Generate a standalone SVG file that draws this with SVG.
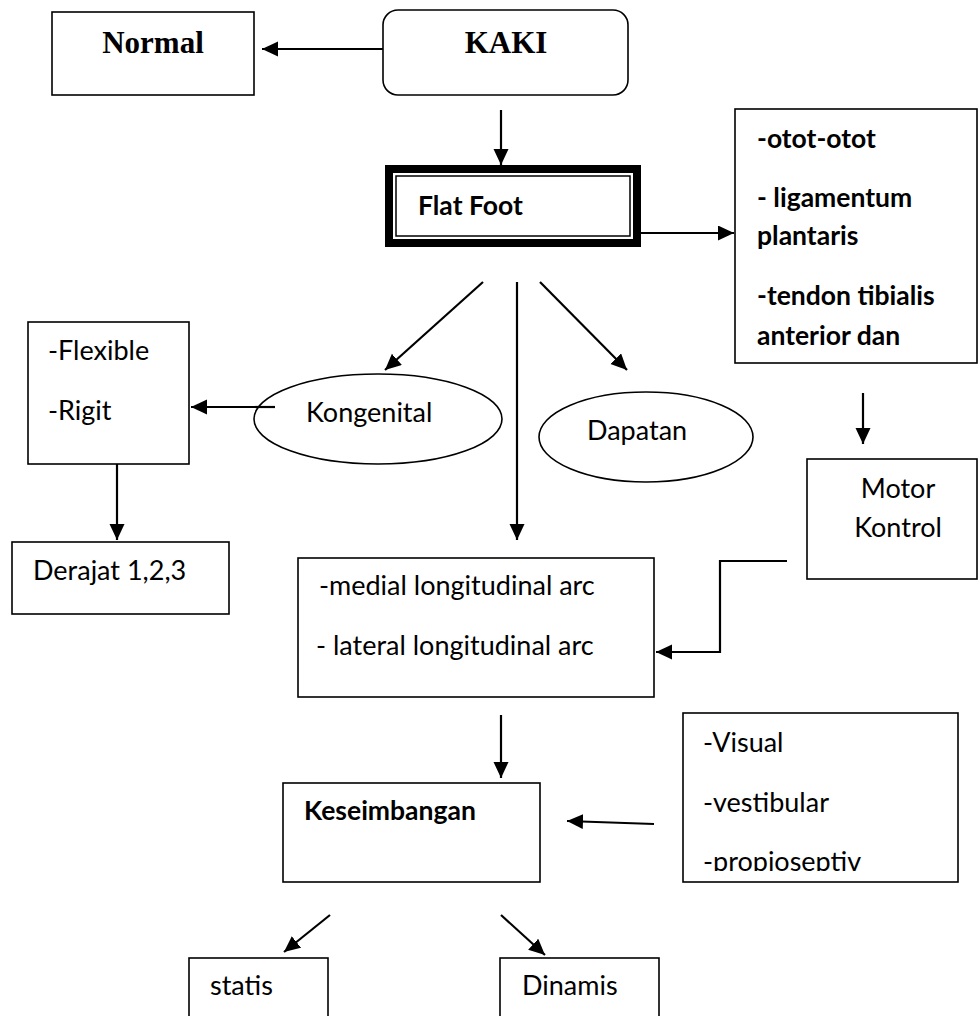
<svg xmlns="http://www.w3.org/2000/svg" width="978" height="1016" viewBox="0 0 978 1016">
<style>
.box{fill:#fff;stroke:#000;stroke-width:1.6}
.ell{fill:#fff;stroke:#000;stroke-width:1.6}
.t{font-family:Lato,"Liberation Sans",sans-serif;font-size:27px;fill:#000}
.b{font-weight:bold;font-size:26.5px}
.s{font-family:"Liberation Serif",serif;font-size:31px;font-weight:bold;fill:#000}
.c{fill:none;stroke:#000;stroke-width:2.2}
</style>
<defs>
<marker id="ah" markerUnits="userSpaceOnUse" markerWidth="17" markerHeight="16" refX="16" refY="7.5" orient="auto">
<path d="M0,0 L16,7.5 L0,15 z" fill="#000"/>
</marker>
<clipPath id="vclip"><rect x="683" y="713" width="275" height="158"/></clipPath>
</defs>
<rect width="978" height="1016" fill="#fff"/>
<g id="connectors">
<line class="c" x1="383" y1="49" x2="262" y2="49" marker-end="url(#ah)"/>
<line class="c" x1="501" y1="110" x2="501" y2="165" marker-end="url(#ah)"/>
<line class="c" x1="641" y1="233" x2="734" y2="233" marker-end="url(#ah)"/>
<line class="c" x1="863" y1="393" x2="863" y2="444" marker-end="url(#ah)"/>
<polyline class="c" points="787,561 720,561 720,652 656,652" marker-end="url(#ah)"/>
<line class="c" x1="483" y1="282" x2="385" y2="370" marker-end="url(#ah)"/>
<line class="c" x1="517" y1="282" x2="517" y2="540" marker-end="url(#ah)"/>
<line class="c" x1="540" y1="282" x2="627" y2="370" marker-end="url(#ah)"/>
<line class="c" x1="275" y1="407" x2="191" y2="407" marker-end="url(#ah)"/>
<line class="c" x1="117" y1="464" x2="117" y2="540" marker-end="url(#ah)"/>
<line class="c" x1="501" y1="715" x2="501" y2="778" marker-end="url(#ah)"/>
<line class="c" x1="654" y1="824" x2="567" y2="821" marker-end="url(#ah)"/>
<line class="c" x1="330" y1="915" x2="284" y2="952" marker-end="url(#ah)"/>
<line class="c" x1="501" y1="915" x2="545" y2="955" marker-end="url(#ah)"/>
</g>
<g id="normal">
<rect class="box" x="52" y="12" width="202" height="83"/>
<text class="s" x="153" y="53" text-anchor="middle">Normal</text>
</g>
<g id="kaki">
<rect class="box" x="383" y="10" width="245" height="85" rx="15"/>
<text class="s" x="506" y="53" text-anchor="middle">KAKI</text>
</g>
<g id="flatfoot">
<rect x="389" y="169" width="248" height="74" fill="#fff" stroke="#000" stroke-width="8"/>
<rect x="396" y="176" width="234" height="60" fill="none" stroke="#000" stroke-width="1.5"/>
<text class="t b" x="418" y="215">Flat Foot</text>
</g>
<g id="otot">
<rect class="box" x="735" y="109" width="242" height="254"/>
<text class="t b" x="757" y="148">-otot-otot</text>
<text class="t b" x="757" y="207">- ligamentum</text>
<text class="t b" x="757" y="245">plantaris</text>
<text class="t b" x="757" y="305">-tendon tibialis</text>
<text class="t b" x="757" y="345">anterior dan</text>
</g>
<g id="flexible">
<rect class="box" x="28" y="322" width="161" height="142"/>
<text class="t" x="48" y="360">-Flexible</text>
<text class="t" x="48" y="420">-Rigit</text>
</g>
<g id="kongenital">
<ellipse class="ell" cx="378" cy="419" rx="124" ry="45"/>
<text class="t" x="306" y="422">Kongenital</text>
</g>
<line class="c" x1="275" y1="407" x2="254" y2="407"/>
<g id="dapatan">
<ellipse class="ell" cx="646" cy="437" rx="107" ry="45"/>
<text class="t" x="587" y="440">Dapatan</text>
</g>
<g id="motor">
<rect class="box" x="807" y="459" width="170" height="120"/>
<text class="t" x="898" y="498" text-anchor="middle">Motor</text>
<text class="t" x="898" y="537" text-anchor="middle">Kontrol</text>
</g>
<g id="derajat">
<rect class="box" x="12" y="542" width="217" height="72"/>
<text class="t" x="33" y="580">Derajat 1,2,3</text>
</g>
<g id="arc">
<rect class="box" x="298" y="558" width="356" height="139"/>
<text class="t" x="319" y="595">-medial longitudinal arc</text>
<text class="t" x="316" y="655">- lateral longitudinal arc</text>
</g>
<g id="keseimbangan">
<rect class="box" x="283" y="783" width="257" height="99"/>
<text class="t b" x="304" y="820">Keseimbangan</text>
</g>
<g id="visual">
<rect class="box" x="683" y="713" width="275" height="169"/>
<text class="t" x="703" y="752">-Visual</text>
<text class="t" x="703" y="812">-vestibular</text>
<text class="t" x="703" y="871" clip-path="url(#vclip)">-propioseptiv</text>
</g>
<g id="statis">
<rect class="box" x="189" y="958" width="139" height="80"/>
<text class="t" x="210" y="995">statis</text>
</g>
<g id="dinamis">
<rect class="box" x="500" y="958" width="159" height="80"/>
<text class="t" x="522" y="995">Dinamis</text>
</g>
</svg>
